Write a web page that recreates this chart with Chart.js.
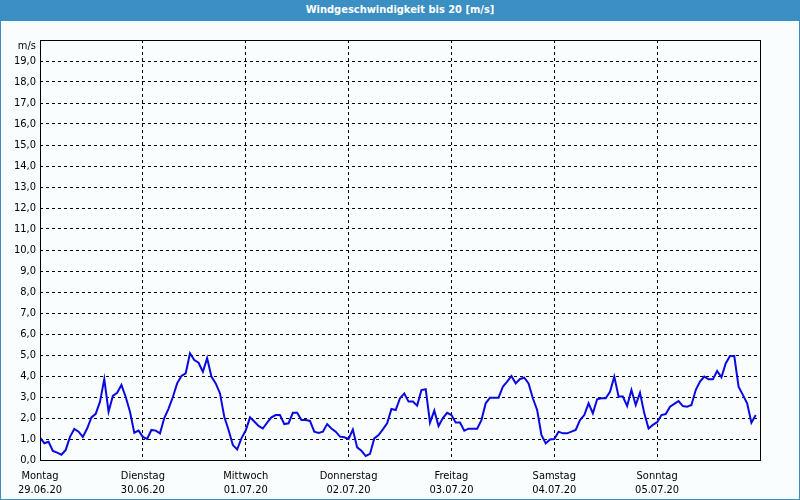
<!DOCTYPE html>
<html>
<head>
<meta charset="utf-8">
<script src="https://cdn.jsdelivr.net/npm/chart.js@4/dist/chart.umd.min.js"></script>
<style>
  html, body { margin: 0; padding: 0; background: #ffffff; }
  #wrap { position: relative; width: 800px; height: 500px; box-sizing: border-box;
          border: 1px solid #3b8fc3; border-top: none; background: #fafdfd; overflow: hidden; }
  #title { height: 21px; background: #3b8fc3; color: #ffffff; text-align: center;
           font: bold 11px "DejaVu Sans Condensed", "DejaVu Sans", sans-serif; line-height: 20px;
           margin: 0 -1px; }
  canvas { display: block; }
</style>
</head>
<body>
<div id="wrap">
  <div id="title">Windgeschwindigkeit bis 20 [m/s]</div>
  <canvas id="c" width="798" height="478"></canvas>
</div>
<script>
// Day labels (x-axis, one per 24 h)
const dayNames = ["Montag", "Dienstag", "Mittwoch", "Donnerstag", "Freitag", "Samstag", "Sonntag"];
const dayDates = ["29.06.20", "30.06.20", "01.07.20", "02.07.20", "03.07.20", "04.07.20", "05.07.20"];
const yUnit = "m/s";
const yMax = 20;
const hoursPerDay = 24;
// Hourly wind speed [m/s], 29.06.20 00:00 .. 05.07.20 23:00
const windSpeed = [
  1.06,0.8,0.87,0.43,0.35,0.25,0.48,1.1,1.48,1.35,1.1,1.5,2.03,2.2,2.78,3.85,2.3,3.05,3.2,3.57,3.0,2.3,1.3,1.4,
  1.1,1.0,1.43,1.4,1.27,2.0,2.45,3.0,3.65,4.0,4.13,5.08,4.76,4.63,4.2,4.85,3.97,3.65,3.17,2.06,1.43,0.71,0.5,1.03,
  1.4,2.03,1.83,1.62,1.5,1.78,2.03,2.14,2.14,1.71,1.75,2.25,2.25,1.9,1.9,1.86,1.35,1.29,1.35,1.71,1.5,1.35,1.11,1.08,
  1.0,1.45,0.6,0.44,0.19,0.29,1.03,1.19,1.46,1.75,2.43,2.38,2.94,3.17,2.78,2.78,2.59,3.33,3.37,1.78,2.35,1.62,2.0,2.25,
  2.14,1.78,1.78,1.4,1.49,1.49,1.49,1.9,2.7,2.97,2.97,2.97,3.49,3.73,4.0,3.65,3.86,3.92,3.65,2.94,2.38,1.19,0.79,0.98,
  1.0,1.35,1.27,1.27,1.35,1.43,1.9,2.14,2.7,2.22,2.89,2.94,2.94,3.25,3.97,3.02,3.02,2.57,3.33,2.62,3.2,2.22,1.5,1.67,
  1.8,2.14,2.19,2.54,2.67,2.81,2.57,2.54,2.62,3.33,3.73,3.97,3.84,3.84,4.24,3.94,4.6,4.95,4.95,3.49,3.1,2.7,1.78,2.14
];

const FONT = { family: '"DejaVu Sans Condensed", "DejaVu Sans", sans-serif', size: 11 };
const points = windSpeed.map((v, i) => ({ x: i, y: v }));
const totalHours = dayNames.length * hoursPerDay;

const framePlugin = {
  id: 'frame',
  afterDraw(chart) {
    const { ctx, chartArea: a } = chart;
    ctx.save();
    ctx.strokeStyle = '#000';
    ctx.lineWidth = 1;
    ctx.setLineDash([]);
    ctx.strokeRect(a.left + 0.5, a.top + 0.5, a.right - a.left, a.bottom - a.top);
    ctx.fillStyle = '#000';
    ctx.font = FONT.size + 'px ' + FONT.family;
    ctx.textAlign = 'right';
    ctx.textBaseline = 'middle';
    ctx.fillText(yUnit, a.left - 4, a.top + 6);
    ctx.restore();
  }
};

new Chart(document.getElementById('c'), {
  type: 'line',
  data: {
    datasets: [{
      data: points,
      borderColor: '#0a0ae0',
      borderWidth: 2,
      pointRadius: 0,
      tension: 0,
      fill: false
    }]
  },
  options: {
    responsive: false,
    animation: false,
    devicePixelRatio: 1,
    layout: { padding: { top: 19, right: 39, left: 0, bottom: 0 } },
    plugins: { legend: { display: false }, tooltip: { enabled: false }, title: { display: false } },
    scales: {
      x: {
        type: 'linear',
        min: 0,
        max: totalHours,
        afterBuildTicks(s) {
          s.ticks = dayNames.map((_, i) => ({ value: i * hoursPerDay })).concat([{ value: totalHours }]);
        },
        afterFit(s) { s.height = 39; },
        grid: {
          color: '#000',
          lineWidth: 1,
          drawTicks: false
        },
        border: { display: false, dash: [3, 3] },
        ticks: {
          autoSkip: false,
          maxRotation: 0,
          color: '#000',
          font: FONT,
          padding: 10,
          callback(v) {
            const i = Math.round(v / hoursPerDay);
            return i < dayNames.length ? [dayNames[i], dayDates[i]] : '';
          }
        }
      },
      y: {
        min: 0,
        max: yMax,
        afterFit(s) { s.width = 39; },
        afterBuildTicks(s) {
          const t = [];
          for (let v = 0; v <= yMax; v++) t.push({ value: v });
          s.ticks = t;
        },
        grid: { color: '#000', lineWidth: 1, drawTicks: false },
        border: { display: false, dash: [3, 3] },
        ticks: {
          color: '#000',
          font: FONT,
          padding: 4,
          callback(v) { return v >= yMax ? '' : v.toFixed(1).replace('.', ','); }
        }
      }
    }
  },
  plugins: [framePlugin]
});
</script>
</body>
</html>
